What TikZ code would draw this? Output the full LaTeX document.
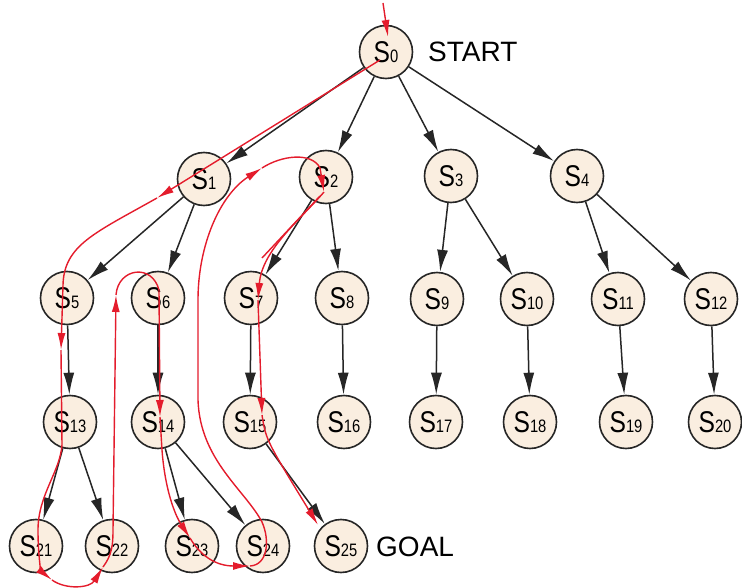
\documentclass[tikz,border=0pt]{standalone}
\usepackage{fontspec}
\usepackage{graphicx}
\setmainfont{Liberation Sans}
\usetikzlibrary{arrows.meta}
\definecolor{statefill}{RGB}{250,238,224}
\definecolor{tracered}{RGB}{228,28,44}
% state label: a tall, narrow S followed by a small index
\newcommand{\st}[1]{\scalebox{0.82}[1]{{\fontsize{30}{30}\selectfont S}{\fontsize{18}{18}\selectfont #1}}}
\tikzset{
  state/.style={circle,draw=black!85,line width=1.6pt,fill=statefill,minimum size=53pt,inner sep=0pt},
  edge/.style={draw=black!85,line width=1.5pt,-{Latex[length=22pt,width=11pt]}},
  trace/.style={draw=tracered,line width=1.4pt},
  tracearrow/.style={trace,-{Latex[length=17pt,width=8pt]}},
  caption/.style={font=\fontsize{28}{28}\selectfont,anchor=west,inner sep=0pt}
}
\begin{document}
\begin{tikzpicture}[x=1pt,y=-1pt]
\useasboundingbox (0,0) rectangle (742,588);

% states
\node[state] (S0) at (386,52) {\st{0}};
\node[state] (S1) at (204,179) {\st{1}};
\node[state] (S2) at (326,177) {\st{2}};
\node[state] (S3) at (451,176) {\st{3}};
\node[state] (S4) at (577,176) {\st{4}};
\node[state] (S5) at (67,298) {\st{5}};
\node[state] (S6) at (158,298) {\st{6}};
\node[state] (S7) at (251,298) {\st{7}};
\node[state] (S8) at (342,298) {\st{8}};
\node[state] (S9) at (437,299) {\st{9}};
\node[state] (S10) at (527,299) {\st{10}};
\node[state] (S11) at (618,299) {\st{11}};
\node[state] (S12) at (711,299) {\st{12}};
\node[state] (S13) at (70,422) {\st{13}};
\node[state] (S14) at (158,422) {\st{14}};
\node[state] (S15) at (250,422) {\st{15}};
\node[state] (S16) at (344,422) {\st{16}};
\node[state] (S17) at (436,422) {\st{17}};
\node[state] (S18) at (530,422) {\st{18}};
\node[state] (S19) at (626,422) {\st{19}};
\node[state] (S20) at (715,422) {\st{20}};
\node[state] (S21) at (36,546) {\st{21}};
\node[state] (S22) at (112,546) {\st{22}};
\node[state] (S23) at (192,546) {\st{23}};
\node[state] (S24) at (263,546) {\st{24}};
\node[state] (S25) at (341,546) {\st{25}};

\node[caption] (start) at (428,52) {START};
\node[caption] (goal) at (376,547) {GOAL};

% search tree
\foreach \a/\b in {S0/S1,S0/S2,S0/S3,S0/S4,
                   S1/S5,S1/S6,S2/S7,S2/S8,S3/S9,S3/S10,S4/S11,S4/S12,
                   S5/S13,S6/S14,S7/S15,S8/S16,S9/S17,S10/S18,S11/S19,S12/S20,
                   S13/S21,S13/S22,S14/S23,S14/S24,S15/S25}
  \draw[edge] (\a) -- (\b);

% depth-first trace
\coordinate (entry) at (383,3);
\draw[tracearrow] (entry) -- (388,37);
\draw[tracearrow] (380,60) -- (157,198);
\draw[tracearrow] (157,198) .. controls (95,233) and (64,245) .. (63,285) -- (61,350);
\draw[tracearrow] (61,350) -- (62,445) .. controls (60,472) and (38,495) .. (38,530)
      .. controls (38,560) and (42,572) .. (52,580);
\draw[tracearrow] (52,580) .. controls (66,590) and (90,588) .. (103,567);
\draw[tracearrow] (103,567) .. controls (112,555) and (113,545) .. (113,530) -- (116,295);
\draw[tracearrow] (116,295) .. controls (118,268) and (152,263) .. (159,290) -- (160,417);
\draw[tracearrow] (160,417) -- (162,450) .. controls (165,490) and (175,515) .. (190,538);
\draw[tracearrow] (190,538) .. controls (200,555) and (215,566) .. (250,566);
\draw[tracearrow] (250,566) .. controls (268,565) and (270,540) .. (262,522)
      .. controls (245,490) and (200,460) .. (198,400) -- (198,300)
      .. controls (198,245) and (220,195) .. (262,168);
\draw[tracearrow] (262,168) .. controls (282,155) and (312,152) .. (320,168) -- (324,192);
\draw[trace] (320,196) -- (262,258);
\draw[tracearrow] (324,192) .. controls (300,220) and (262,250) .. (258,300);
\draw[tracearrow] (258,300) -- (262,415);
\draw[tracearrow] (262,415) .. controls (266,440) .. (318,525);
\end{tikzpicture}
\end{document}
